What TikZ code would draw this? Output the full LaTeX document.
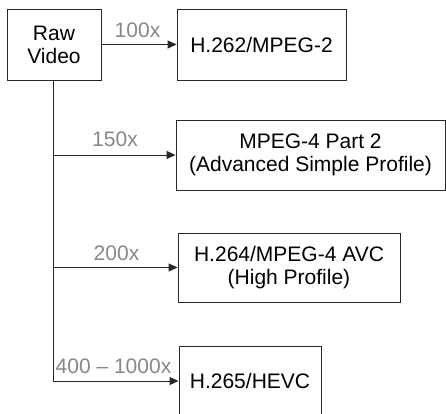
\documentclass[tikz,border=0pt]{standalone}
\usepackage{fontspec}
\setmainfont{Liberation Sans}
\usetikzlibrary{arrows.meta}
\definecolor{linec}{RGB}{40,40,40}
\definecolor{labc}{RGB}{135,135,135}
\begin{document}
\begin{tikzpicture}[x=1pt,y=-1pt,
  box/.style={draw=linec,line width=0.9pt,inner sep=0pt,align=center,
    font=\fontsize{21}{23}\selectfont,text=black},
  conn/.style={draw=linec,line width=0.9pt},
  arr/.style={conn,-{Triangle[length=9pt,width=8pt]}},
  lab/.style={font=\fontsize{21}{23}\selectfont,text=labc,inner sep=0pt,anchor=base}]
\useasboundingbox (0,0) rectangle (446,413);
\node[box,minimum width=94pt,minimum height=71pt] (raw) at (54,44.5) {Raw\\Video};
\node[box,minimum width=169pt,minimum height=71pt] (h262) at (261.5,44.5) {H.262/MPEG-2};
\node[box,minimum width=269pt,minimum height=70pt] (mpeg4) at (310.5,155) {MPEG-4 Part 2\\(Advanced Simple Profile)};
\node[box,minimum width=222pt,minimum height=69pt] (h264) at (289,267.5) {H.264/MPEG-4 AVC\\(High Profile)};
\node[box,minimum width=142pt,minimum height=70pt] (h265) at (250,381) {H.265/HEVC};
\draw[arr] (raw.east) -- (h262.west);
\coordinate (top) at (53,80);
\draw[conn] (top) -- (top |- h265.west);
\draw[arr] (top |- mpeg4.west) -- (mpeg4.west);
\draw[arr] (top |- h264.west) -- (h264.west);
\draw[arr] (top |- h265.west) -- (h265.west);
\node[lab] (l1) at (137.5,37) {100x};
\node[lab] (l2) at (115,146) {150x};
\node[lab] (l3) at (116.5,260) {200x};
\node[lab] (l4) at (113.5,373) {400 – 1000x};
\end{tikzpicture}
\end{document}
